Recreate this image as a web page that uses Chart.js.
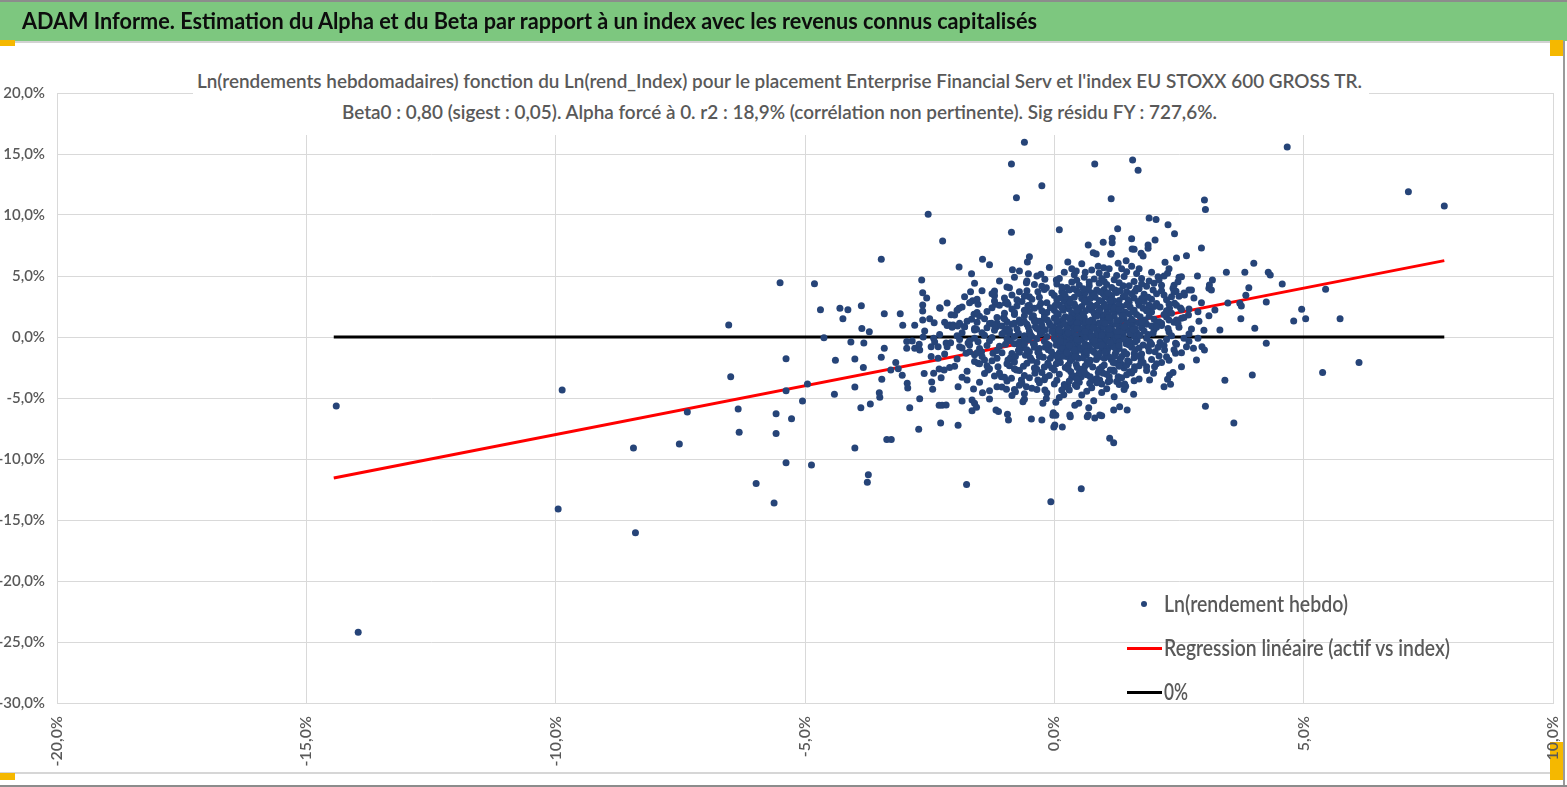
<!DOCTYPE html>
<html><head><meta charset="utf-8">
<script src="https://cdn.jsdelivr.net/npm/chart.js@4.4.0/dist/chart.umd.min.js"></script>
<style>
html,body{margin:0;padding:0;background:#fff;}
#wrap{position:relative;width:1567px;height:787px;overflow:hidden;background:#fff;font-family:Lato,"Open Sans",sans-serif;}
canvas{position:absolute;left:0;top:0;}
.txt{position:absolute;white-space:nowrap;transform-origin:0 50%;line-height:1;}
#header{position:absolute;left:0;top:0;width:1567px;height:41px;background:#7DC77F;border-top:2px solid #8C8C8C;box-sizing:border-box;}
#hline{position:absolute;left:0;top:41px;width:1563px;height:2px;background:#D2D2D2;}
#rline{position:absolute;left:1563px;top:41px;width:2px;height:746px;background:#9A9A9A;}
#bline1{position:absolute;left:0;top:772px;width:1563px;height:2px;background:#D6D6D6;}
#bline2{position:absolute;left:0;top:785px;width:1567px;height:2px;background:#8C8C8C;}
.handle{position:absolute;background:#F5B800;}
#titlebox{position:absolute;left:193px;top:62px;width:1176px;height:73px;background:#fff;}
.leg{position:absolute;}
</style>
</head><body>
<div id="wrap">
  <div id="header"></div>
  <div id="hline"></div><div id="rline"></div><div id="bline1"></div><div id="bline2"></div>
  <div class="handle" style="left:0;top:40px;width:15px;height:6px"></div>
  <div class="handle" style="left:1550px;top:40px;width:13px;height:16px"></div>
  <div class="handle" style="left:0;top:773px;width:15px;height:7px"></div>
  <div class="handle" style="left:1550px;top:742px;width:13px;height:38px"></div>
  <canvas id="c" width="1567" height="787"></canvas>
  <div id="titlebox"></div>
  <div id="overlay"></div>
</div>
<script>
// ---- Texts ----
const HEADER_TEXT = "ADAM Informe. Estimation du Alpha et du Beta par rapport à un index avec les revenus connus capitalisés";
const TITLE_LINE_1 = "Ln(rendements hebdomadaires) fonction du Ln(rend_Index) pour le placement Enterprise Financial Serv et l'index EU STOXX 600 GROSS TR.";
const TITLE_LINE_2 = "Beta0 : 0,80 (sigest : 0,05). Alpha forcé à 0. r2 : 18,9% (corrélation non pertinente). Sig résidu FY : 727,6%.";
const SERIES_NAMES = ["Ln(rendement hebdo)", "Regression linéaire (actif vs index)", "0%"];

// ---- Axis ticks (percent) ----
const X_TICKS = [-20, -15, -10, -5, 0, 5, 10];
const Y_TICKS = [-30, -25, -20, -15, -10, -5, 0, 5, 10, 15, 20];

// ---- Weekly log returns [index %, asset %] ----
const tailPoints = [
[-14.4,-5.66],[-13.96,-24.2],[-9.95,-14.1],[-9.87,-4.34],[-8.44,-9.1],[-8.4,-16.05],[-7.52,-8.77],[-7.36,-6.15],
[-6.53,0.98],[-6.49,-3.25],[-6.34,-5.9],[-6.32,-7.8],[-5.98,-12.0],[-5.62,-13.6],[-5.58,-6.3],[-5.58,-7.9],
[-5.5,4.45],[-5.38,-1.78],[-5.38,-4.4],[-5.38,-10.3],[-5.27,-6.7],[-5.05,-5.25],[-4.95,-3.85],[-4.87,-10.5],
[-4.81,4.37],[-4.69,2.24],[-4.62,-0.06]
];
const leftPoints = [
[-4.41,-4.7],[-4.39,-1.9],[-4.3,2.35],[-4.24,1.5],[-4.14,2.24],[-4.08,-0.4],[-4.0,-1.8],[-4.0,-4.1],[-4.0,-9.1],
[-3.88,-5.8],[-3.87,2.57],[-3.86,0.7],[-3.83,-2.5],[-3.82,-0.5],[-3.75,-11.9],[-3.73,-11.3],[-3.71,0.43],
[-3.69,-5.5],[-3.51,-4.57],[-3.5,-4.94],[-3.47,6.37],[-3.47,-1.66],[-3.46,-3.47],[-3.41,-0.93],[-3.41,1.91],
[-3.36,-8.4],[-3.28,-2.7],[-3.27,-8.4],[-3.18,-2.1],[-3.13,-2.6],[-3.09,1.91],[-3.05,-3.14],[-3.04,0.96],
[-2.96,-0.36],[-2.96,-0.93],[-2.95,-3.8],[-2.94,-4.18],[-2.9,-5.8],[-2.85,-0.33],[-2.8,0.96],[-2.8,-0.93],
[-2.72,-7.57],[-2.71,-0.6],[-2.7,-1.07],[-2.7,-5.06],[-2.66,4.67],[-2.64,3.63],[-2.64,2.62],[-2.64,2.13],
[-2.64,1.39],[-2.63,0.0],[-2.61,-3.0],[-2.56,3.2],[-2.53,10.06],[-2.47,-0.8],[-2.47,-1.6],[-2.46,-3.69],
[-2.44,-4.29],[-2.42,-0.1],[-2.42,-2.98],[-2.41,1.17],[-2.33,-0.8],[-2.33,-1.75],[-2.31,-2.62],[-2.31,-5.6],
[-2.29,2.35],[-2.28,-7.05],[-2.27,-3.34],[-2.25,-5.6],[-2.24,7.87],[-2.21,-2.7],[-2.17,-0.5],[-2.17,-5.57],
[-2.15,2.79],[-2.1,-2.5],[-2.1,0.98],[-2.08,-0.47],[-2.07,1.83],[-2.03,0.98]
];
const midPoints = [
[-1.93,-7.24],[-1.93,-4.07],[-1.94,0.9],[-1.91,5.74],[-1.91,2.35],[-1.9,-0.8],[-1.9,1.12],[-1.85,-5.25],
[-1.8,0.84],[-1.77,-1.34],[-1.76,-12.1],[-1.75,-3.52],[-1.73,-0.5],[-1.68,3.71],[-1.66,5.19],[-1.66,1.45],
[-1.65,-5.16],[-1.65,-6.04],[-1.64,2.98],[-1.62,-4.26],[-1.61,1.86],[-1.6,0.57],[-1.6,-5.43],[-1.56,-5.76],
[-1.56,0.63],[-1.53,2.68],[-1.53,-0.38],[-1.53,-2.16],[-1.46,-1.2],[-1.44,6.37],[-1.44,-4.57],[-1.4,1.5],
[-1.4,-1.89],[-1.33,-2.7],[-1.3,5.93],[-1.3,-5.08],[-1.26,1.12],[-1.23,-1.34],[-1.2,3.77],[-1.2,3.39],
[-1.21,3.58],[-1.18,2.68],[-1.17,-5.98],[-1.16,0.84],[-1.12,-6.1],[-1.15,-4.07],[-1.13,-2.43],[-1.06,-3.25],
[-1.02,1.58],[-0.98,2.79],[-0.96,-4.29],[-0.94,-6.34],[-0.93,2.68],[-0.93,-1.89],[-0.92,-6.8],[-0.9,4.04],
[-0.86,14.18],[-0.86,8.58],[-0.86,-3.39],[-0.84,5.52],[-0.8,1.12],[-0.78,-4.48],[-0.76,11.42],[-0.76,-2.7],
[-0.7,5.41],[-0.66,-3.52],[-0.63,-5.3],[-0.6,-5.1],[-0.6,15.96],[-0.56,-4.07],[-0.56,4.45],[-0.54,6.15],
[-0.53,2.57],[-0.5,6.58],[-0.5,3.3],[-0.52,5.19],[-0.46,-6.72],[-0.39,1.39],[-0.39,-2.98],[-0.33,3.71],
[-0.33,-3.52],[-0.27,5.14],[-0.27,2.76],[-0.26,1.25],[-0.25,12.4],[-0.25,-6.8],[-0.23,-5.43],[-0.19,-4.34],
[-0.19,4.73],[-0.16,4.04],[-0.16,-5.05],[-0.13,-2.16],[-0.07,-13.5],[-0.03,-6.42],[-0.01,-7.38],[-0.02,-6.2]
];
const rightPoints = [
[0.01,-7.21],[0.03,-6.42],[0.03,-5.35],[0.04,4.67],[0.1,8.8],[0.16,-7.38],[0.19,-4.73],[0.27,6.15],[0.27,-4.0],
[0.31,-6.39],[0.32,-6.53],[0.41,-5.6],[0.42,-3.93],[0.44,5.41],[0.49,-5.43],[0.54,-3.25],[0.54,-12.43],
[0.66,-6.53],[0.68,7.54],[0.68,-6.39],[0.69,-5.8],[0.71,-3.8],[0.78,6.91],[0.79,-5.22],[0.81,14.18],
[0.81,-6.64],[0.84,6.8],[0.84,-3.52],[0.91,-3.52],[0.91,-6.39],[0.95,-6.45],[0.98,-2.98],[0.98,7.76],
[0.99,5.68],[1.08,-3.66],[1.11,-8.3],[1.11,-3.58],[1.13,6.78],[1.14,11.34],[1.14,6.85],[1.16,8.09],
[1.16,7.73],[1.18,-2.7],[1.19,-5.98],[1.19,-8.66],[1.27,8.88],[1.28,6.04],[1.28,-3.25],[1.31,-3.39],
[1.31,-5.71],[1.34,-2.21],[1.41,-3.85],[1.43,-4.04],[1.44,6.25],[1.46,-5.98],[1.51,-2.84],[1.55,8.06],
[1.56,7.21],[1.57,14.5],[1.6,7.19],[1.59,-4.7],[1.6,-3.58],[1.61,-2.43],[1.68,13.66],[1.74,6.86],
[1.74,-2.02],[1.78,6.64],[1.85,-2.43],[1.88,7.27],[1.88,7.54],[1.9,9.75],[1.91,-3.52],[1.99,-2.98],
[2.01,-2.43],[2.02,7.95],[2.04,9.64],[2.08,4.94],[2.15,-2.1],[2.15,1.12],[2.2,-4.07],[2.21,-1.07],
[2.22,6.12],[2.25,-1.61],[2.25,1.64],[2.27,-3.47],[2.27,5.22],[2.28,9.2],[2.31,-3.11],[2.31,2.35],
[2.33,-3.88],[2.38,-2.92],[2.38,3.99],[2.41,8.47],[2.41,2.76],[2.43,-0.52],[2.43,-1.34],[2.44,3.74],
[2.45,6.48],[2.45,1.39],[2.48,4.53],[2.53,2.38],[2.55,4.94],[2.55,-2.43],[2.55,1.53],[2.61,3.44],
[2.65,6.66],[2.65,-0.8],[2.69,1.8],[2.75,3.85],[2.79,-0.93],[2.85,-1.89],[2.87,5.0],[2.88,2.07],
[2.88,-0.1],[2.95,7.3],[2.96,-0.8],[3.01,11.23],[3.01,-1.07],[3.03,10.46],[3.03,-5.68],[3.1,3.99],
[3.11,4.26],[3.15,3.85],[3.17,4.67],[3.22,2.21],[3.32,0.57],[3.42,-3.55],[3.45,5.3],[3.48,2.79],
[3.6,-7.05],[3.72,2.76],[3.74,1.5],[3.75,2.54],[3.82,5.3],[3.84,3.42],[3.9,4.04],[3.97,-3.11],
[4.0,6.04],[4.02,0.71],[4.25,-0.52],[4.25,2.87],[4.29,5.3],[4.33,5.08],[4.57,4.34],[4.67,15.57],
[4.8,1.31],[4.96,2.27],[5.04,1.5],[5.38,-2.92],[5.44,3.91],[5.73,1.5],[6.11,-2.08],[7.1,11.9],[7.82,10.74]
];
const corePoints = [
[-1.1,4.6],[-0.8,4.9],[-0.4,4.3],[0.1,4.8],[0.35,4.5],[0.6,4.9],[0.9,4.4],[1.2,4.7],[1.5,4.2],[1.75,4.8],
[2.0,4.4],[0.2,5.3],[0.75,5.5],[1.05,5.1],[1.35,5.6],[-0.1,5.7],[0.55,6.0],[1.65,5.2],[2.2,5.0],[-1.6,4.4],
[-1.8,3.3],[-1.45,3.8],[-1.0,3.2],[-0.7,3.7],[-0.45,3.1],[-0.2,3.9],[0.0,3.4],[0.15,3.7],[0.3,3.1],[0.45,3.8],
[0.6,3.3],[0.75,3.6],[0.9,3.0],[1.0,3.9],[1.15,3.4],[1.3,3.0],[1.45,3.7],[1.6,3.2],[1.8,3.5],[1.95,3.1],
[2.15,3.8],[2.35,3.3],[2.6,3.6],[0.05,3.05],[0.5,3.55],[0.85,3.85],[1.25,3.65],[-0.6,3.35],[-1.25,3.55],[2.8,3.2],
[-2.3,2.4],[-1.95,2.2],[-1.7,2.8],[-1.35,2.1],[-1.1,2.6],[-0.85,2.3],[-0.65,2.9],[-0.5,2.1],[-0.3,2.5],[-0.15,2.8],
[0.0,2.2],[0.1,2.6],[0.2,2.9],[0.3,2.3],[0.4,2.7],[0.5,2.05],[0.55,2.5],[0.65,2.85],[0.75,2.2],[0.85,2.6],
[0.95,2.95],[1.05,2.3],[1.15,2.7],[1.25,2.1],[1.35,2.5],[1.5,2.85],[1.6,2.2],[1.7,2.6],[1.9,2.3],[2.05,2.75],
[2.25,2.15],[2.45,2.6],[2.7,2.3],[2.95,2.8],[-0.95,2.85],[0.25,2.45],[0.7,2.4],[1.1,2.45],[-0.4,2.35],[1.8,2.9],
[-2.5,1.5],[-2.2,1.2],[-2.0,1.8],[-1.75,1.3],[-1.5,1.7],[-1.3,1.1],[-1.15,1.6],[-0.95,1.25],[-0.8,1.85],[-0.7,1.4],
[-0.55,1.05],[-0.45,1.6],[-0.3,1.3],[-0.2,1.9],[-0.1,1.15],[0.0,1.55],[0.08,1.85],[0.15,1.25],[0.22,1.65],[0.3,1.05],
[0.38,1.45],[0.45,1.9],[0.52,1.2],[0.6,1.6],[0.68,1.0],[0.75,1.4],[0.82,1.8],[0.9,1.15],[0.98,1.55],[1.05,1.95],
[1.12,1.3],[1.2,1.7],[1.3,1.1],[1.4,1.5],[1.5,1.9],[1.6,1.25],[1.72,1.65],[1.85,1.05],[2.0,1.45],[2.2,1.85],
[2.4,1.2],[2.6,1.6],[2.9,1.3],[3.1,1.75],[-0.6,1.75],[0.35,1.75],[0.95,1.85],[1.35,1.85],[-1.0,1.5],[0.5,1.35],
[-2.6,0.5],[-2.3,0.2],[-2.05,0.8],[-1.85,0.35],[-1.6,0.7],[-1.4,0.15],[-1.2,0.55],[-1.05,0.9],[-0.9,0.3],[-0.75,0.65],
[-0.6,0.1],[-0.5,0.45],[-0.38,0.85],[-0.28,0.25],[-0.18,0.6],[-0.08,0.95],[0.0,0.3],[0.07,0.7],[0.14,0.05],[0.2,0.45],
[0.27,0.85],[0.33,0.2],[0.4,0.6],[0.47,0.95],[0.53,0.35],[0.6,0.75],[0.66,0.1],[0.72,0.5],[0.8,0.9],[0.86,0.25],
[0.93,0.65],[1.0,0.05],[1.07,0.45],[1.14,0.85],[1.22,0.3],[1.3,0.7],[1.38,0.15],[1.46,0.55],[1.55,0.95],[1.65,0.35],
[1.75,0.75],[1.88,0.2],[2.0,0.6],[2.15,0.95],[2.3,0.4],[2.5,0.8],[2.7,0.25],[3.0,0.55],[-0.45,0.05],[0.25,0.98],
[0.9,0.45],[1.6,0.1],[-1.0,0.4],
[-2.4,-0.4],[-2.15,-0.8],[-1.9,-0.2],[-1.7,-0.65],[-1.5,-0.95],[-1.3,-0.3],[-1.1,-0.75],[-0.95,-0.15],[-0.8,-0.55],[-0.65,-0.9],
[-0.52,-0.25],[-0.4,-0.6],[-0.3,-0.95],[-0.2,-0.35],[-0.1,-0.7],[0.0,-0.1],[0.06,-0.5],[0.12,-0.85],[0.2,-0.25],[0.27,-0.65],
[0.34,-0.05],[0.41,-0.45],[0.48,-0.8],[0.55,-0.2],[0.62,-0.6],[0.7,-0.95],[0.77,-0.35],[0.85,-0.75],[0.92,-0.1],[1.0,-0.5],
[1.08,-0.9],[1.16,-0.3],[1.25,-0.7],[1.34,-0.15],[1.44,-0.55],[1.55,-0.85],[1.66,-0.25],[1.78,-0.65],[1.92,-0.4],[2.08,-0.85],
[2.25,-0.2],[2.45,-0.6],[2.7,-0.35],[-0.7,-0.4],[0.38,-0.98],[1.2,-0.1],[-1.6,-0.1],[0.8,-0.55],
[-2.2,-1.4],[-1.95,-1.8],[-1.7,-1.2],[-1.45,-1.6],[-1.25,-1.95],[-1.05,-1.3],[-0.88,-1.7],[-0.72,-1.1],[-0.58,-1.5],[-0.45,-1.9],
[-0.33,-1.25],[-0.22,-1.65],[-0.12,-1.05],[-0.02,-1.45],[0.08,-1.85],[0.16,-1.2],[0.24,-1.6],[0.32,-1.95],[0.4,-1.35],[0.48,-1.75],
[0.56,-1.1],[0.64,-1.5],[0.72,-1.9],[0.8,-1.25],[0.88,-1.65],[0.96,-1.05],[1.05,-1.45],[1.14,-1.85],[1.24,-1.2],[1.35,-1.6],
[1.47,-1.95],[1.6,-1.35],[1.74,-1.75],[1.9,-1.15],[2.1,-1.55],[2.3,-1.9],[2.55,-1.3],[-1.6,-1.45],[0.3,-1.5],[0.6,-1.3],
[1.0,-1.75],[-0.5,-1.2],
[-2.0,-2.4],[-1.75,-2.8],[-1.5,-2.2],[-1.3,-2.6],[-1.1,-2.95],[-0.9,-2.35],[-0.7,-2.75],[-0.55,-2.15],[-0.4,-2.55],[-0.25,-2.9],
[-0.12,-2.3],[0.0,-2.7],[0.12,-2.1],[0.22,-2.5],[0.33,-2.85],[0.44,-2.25],[0.55,-2.65],[0.66,-2.05],[0.77,-2.45],[0.88,-2.9],
[1.0,-2.3],[1.12,-2.7],[1.25,-2.15],[1.4,-2.55],[1.55,-2.95],[1.7,-2.35],[1.85,-2.75],[2.05,-2.2],[-0.8,-2.05],[0.5,-2.95],[1.3,-2.4],
[-1.85,-3.3],[-1.5,-3.7],[-1.2,-3.2],[-0.95,-3.6],[-0.7,-3.95],[-0.5,-3.35],[-0.3,-3.75],[-0.1,-3.15],[0.05,-3.55],[0.2,-3.9],
[0.35,-3.3],[0.5,-3.7],[0.65,-3.1],[0.8,-3.5],[0.95,-3.85],[1.1,-3.25],[1.25,-3.65],[1.45,-3.1],[1.7,-3.45],[-0.2,-3.5],[0.4,-3.2],
[-1.3,-4.4],[-0.85,-4.8],[-0.45,-4.2],[-0.15,-4.6],[0.1,-4.95],[0.3,-4.35],[0.55,-4.75],[0.75,-4.15],[0.95,-4.55],[1.2,-4.9],
[1.4,-4.3],[-0.6,-4.65],[0.2,-4.1]
];
const denseCorePoints = [
[-0.95,4.1],[-0.55,4.6],[-0.25,4.15],[0.05,4.35],[0.25,4.05],[0.45,4.65],[0.7,4.2],[0.8,4.75],[1.05,4.3],[1.3,4.45],
[1.4,4.95],[1.6,4.55],[1.85,4.15],[2.1,4.7],[2.4,4.25],[0.4,5.1],[0.9,5.25],[1.55,5.8],[-0.35,5.0],[2.5,4.9],
[-1.55,3.1],[-1.2,2.95],[-0.85,3.45],[-0.55,3.8],[-0.3,3.25],[-0.05,3.6],[0.22,3.35],[0.38,3.95],[0.55,3.15],[0.68,3.9],
[0.82,3.25],[0.98,3.55],[1.1,3.15],[1.22,3.85],[1.38,3.3],[1.55,3.55],[1.7,3.95],[1.88,3.25],[2.05,3.55],[2.25,3.05],
[2.5,3.35],[2.7,3.85],[-0.75,3.05],[0.12,3.2],[0.62,3.65],[1.02,3.3],[1.48,3.05],
[-1.85,2.45],[-1.55,2.0],[-1.25,2.4],[-1.0,1.95],[-0.75,2.55],[-0.6,2.2],[-0.42,1.75],[-0.25,2.15],[-0.08,2.4],[0.05,1.95],
[0.18,2.2],[0.28,2.65],[0.35,1.95],[0.48,2.35],[0.58,1.75],[0.63,2.15],[0.72,2.65],[0.8,1.95],[0.92,2.35],[1.0,2.7],
[1.08,1.85],[1.18,2.15],[1.28,2.6],[1.42,2.05],[1.52,2.45],[1.65,1.85],[1.78,2.35],[1.95,2.05],[2.12,2.45],[2.35,1.95],
[2.55,2.25],[-0.15,2.0],[0.42,2.5],[0.88,2.05],[1.2,2.35],[1.9,2.6],
[-2.15,0.95],[-1.8,0.85],[-1.55,1.2],[-1.35,0.75],[-1.15,1.15],[-0.95,0.7],[-0.85,1.05],[-0.68,1.15],[-0.52,0.8],[-0.4,1.3],
[-0.25,0.95],[-0.14,1.4],[-0.03,0.85],[0.05,1.2],[0.12,0.95],[0.18,1.45],[0.26,0.7],[0.34,1.25],[0.42,0.9],[0.5,1.5],
[0.56,0.65],[0.63,1.2],[0.7,0.8],[0.78,1.25],[0.85,0.55],[0.92,1.05],[1.0,0.8],[1.06,1.35],[1.15,0.6],[1.24,1.05],
[1.33,1.4],[1.42,0.85],[1.52,1.25],[1.62,0.7],[1.7,1.15],[1.82,1.4],[1.95,0.9],[2.1,1.25],[2.28,0.7],[2.48,1.1],
[2.75,0.65],[-0.3,0.55],[0.4,0.75],[0.98,1.2],[1.45,1.1],
[-1.95,0.1],[-1.7,-0.3],[-1.45,0.35],[-1.25,-0.05],[-1.05,0.25],[-0.88,-0.3],[-0.72,0.3],[-0.6,-0.2],[-0.48,0.2],[-0.35,-0.15],
[-0.25,0.4],[-0.15,0.05],[-0.05,0.45],[0.03,-0.25],[0.1,0.3],[0.17,-0.1],[0.24,0.15],[0.3,-0.35],[0.37,0.4],[0.44,0.1],
[0.5,-0.3],[0.58,0.25],[0.64,-0.05],[0.7,0.35],[0.76,-0.2],[0.83,0.15],[0.9,-0.4],[0.96,0.3],[1.04,-0.15],[1.11,0.2],
[1.19,-0.35],[1.27,0.1],[1.35,0.45],[1.42,-0.2],[1.52,0.25],[1.62,-0.4],[1.72,0.15],[1.85,-0.1],[1.98,0.3],[2.12,-0.45],
[2.35,0.1],[2.6,-0.1],[-0.8,0.05],[0.2,-0.45],[0.75,0.05],[1.3,-0.4],
[-1.85,-0.9],[-1.55,-1.3],[-1.35,-0.7],[-1.15,-1.1],[-0.98,-0.6],[-0.85,-1.35],[-0.7,-0.75],[-0.55,-1.05],[-0.42,-0.55],[-0.3,-1.4],
[-0.18,-0.85],[-0.06,-1.2],[0.04,-0.65],[0.1,-1.3],[0.18,-0.95],[0.26,-1.15],[0.34,-0.6],[0.44,-1.25],[0.52,-0.9],[0.6,-1.45],
[0.68,-0.7],[0.75,-1.1],[0.83,-0.55],[0.9,-1.35],[0.98,-0.8],[1.06,-1.2],[1.14,-0.6],[1.22,-1.4],[1.3,-0.95],[1.4,-1.2],
[1.5,-0.65],[1.62,-1.05],[1.75,-1.4],[1.88,-0.8],[2.02,-1.2],[2.2,-0.7],[2.4,-1.05],[-0.6,-0.6],[0.4,-1.05],[1.2,-0.85],
[-1.6,-2.0],[-1.35,-2.35],[-1.15,-1.75],[-0.95,-2.2],[-0.78,-1.6],[-0.62,-2.4],[-0.48,-1.7],[-0.35,-2.1],[-0.2,-2.45],[-0.08,-1.75],
[0.04,-2.2],[0.15,-1.6],[0.28,-2.3],[0.36,-1.8],[0.46,-2.5],[0.58,-1.7],[0.7,-2.2],[0.84,-1.85],[0.95,-2.45],[1.08,-1.6],
[1.18,-2.1],[1.32,-1.8],[1.45,-2.3],[1.6,-1.7],[1.78,-2.1],[1.95,-1.85],[-0.3,-1.6],[0.62,-2.35],[1.5,-2.05],
[-1.4,-3.0],[-1.0,-3.3],[-0.8,-2.6],[-0.6,-3.15],[-0.35,-2.65],[-0.18,-3.3],[0.1,-3.05],[0.28,-2.65],[0.45,-3.45],[0.6,-2.8],
[0.72,-3.25],[0.9,-2.65],[1.05,-3.05],[1.2,-2.8],[1.35,-3.35],[1.6,-2.7],[-0.05,-2.55],[0.85,-3.4],
[-1.05,-4.1],[-0.65,-3.8],[-0.35,-4.3],[0.0,-3.85],[0.15,-4.35],[0.45,-4.05],[0.65,-4.45],[0.85,-3.75],[1.05,-4.25],[1.3,-3.9],
[-0.8,-4.3],[0.3,-3.6]
];
const upperCorePoints = [
[0.35,5.6],[0.62,5.3],[0.88,5.8],[1.1,5.6],[1.25,5.05],[1.45,5.35],[1.7,5.6],[1.95,5.3],[2.3,5.6],[0.5,4.25],
[0.95,4.8],[1.15,4.05],[1.38,4.2],[1.65,4.0],[1.9,4.6],[2.15,4.25],[0.15,4.1],[0.7,4.5],[1.0,4.55],[1.75,4.35],
[0.2,3.55],[0.4,3.25],[0.58,3.95],[0.72,3.15],[0.92,3.7],[1.08,3.6],[1.32,3.8],[1.42,3.4],[1.62,3.75],[1.75,3.15],
[1.98,3.85],[2.2,3.45],[0.3,3.85],[0.8,3.45],[1.18,3.0],[2.4,3.7],
[0.02,2.6],[0.15,2.4],[0.32,2.85],[0.45,2.2],[0.6,2.95],[0.78,2.5],[0.9,2.15],[1.02,2.55],[1.12,2.95],[1.3,2.25],
[1.45,2.65],[1.58,2.05],[1.68,2.9],[1.85,2.15],[2.0,2.5],[2.3,2.7],
[0.05,1.4],[0.2,1.05],[0.3,1.55],[0.46,1.15],[0.58,1.9],[0.7,1.3],[0.85,1.7],[1.02,1.1],[1.1,1.6],[1.25,1.35],
[1.38,1.75],[1.55,1.45],[1.75,1.25],[1.9,1.7],[2.05,1.1],[2.3,1.4],
[0.1,0.55],[0.28,0.35],[0.45,0.7],[0.62,0.45],[0.78,0.75],[0.95,0.15],[1.1,0.65],[1.26,0.45],[1.4,0.85],[1.58,0.6],
[1.8,0.5],[2.05,0.8],
[0.12,-0.35],[0.3,-0.7],[0.46,-0.2],[0.6,-0.8],[0.8,-0.3],[0.95,-0.65],[1.12,-0.45],[1.3,-0.7],[1.5,-0.3],[1.7,-0.9],
[1.95,-0.6],
[0.05,-1.55],[0.25,-1.3],[0.42,-1.6],[0.65,-1.2],[0.85,-1.45],[1.02,-1.25],[1.2,-1.6],[1.45,-1.4],[1.68,-1.55],
[-0.5,2.6],[-0.8,2.0],[-0.2,1.6],[-0.6,1.25],[-0.35,0.7],[-0.9,0.55],[-1.2,0.95],[-0.15,-0.55],[-0.7,-1.25],[-0.4,-0.85]
];

// ---- Lines ----
const regressionX = [-14.45, 7.82];
const regressionY = [-11.56, 6.26];
const zeroX = [-14.45, 7.82];
const zeroY = [0, 0];

// ---- Build chart ----
const scatterData = [].concat(tailPoints, leftPoints, midPoints, rightPoints, corePoints, denseCorePoints, upperCorePoints)
  .map(p => ({x: p[0], y: p[1]}));
const pct = v => Number(v).toFixed(1).replace('.', ',') + '%';
const FONT = 'Lato, "Open Sans", sans-serif';
const GREY = '#595959';
const DOT = '#264478';

new Chart(document.getElementById('c'), {
  type: 'scatter',
  data: {
    datasets: [
      {label: SERIES_NAMES[0], data: scatterData, backgroundColor: DOT, borderWidth: 0, pointRadius: 3.5, order: 0},
      {label: SERIES_NAMES[1], type: 'line', data: regressionX.map((x, i) => ({x, y: regressionY[i]})),
        borderColor: '#FF0000', borderWidth: 3, pointRadius: 0, showLine: true, fill: false, order: 1},
      {label: SERIES_NAMES[2], type: 'line', data: zeroX.map((x, i) => ({x, y: zeroY[i]})),
        borderColor: '#000000', borderWidth: 3, pointRadius: 0, showLine: true, fill: false, order: 2}
    ]
  },
  options: {
    responsive: false, animation: false, devicePixelRatio: 1,
    layout: {padding: {top: 93, right: 14, left: 0, bottom: 0}},
    plugins: {legend: {display: false}, tooltip: {enabled: false}, title: {display: false}},
    scales: {
      x: {
        type: 'linear', min: -20, max: 10,
        afterBuildTicks: s => { s.ticks = X_TICKS.map(v => ({value: v})); },
        afterFit: s => { s.height = 84; s.paddingLeft = 0; s.paddingRight = 0; },
        grid: {color: '#D9D9D9', lineWidth: 1, drawTicks: false},
        border: {color: '#D9D9D9'},
        ticks: {autoSkip: false, minRotation: 90, maxRotation: 90, padding: 13, color: GREY,
          font: {family: FONT, size: 16, weight: '600'}, callback: pct}
      },
      y: {
        type: 'linear', min: -30, max: 20,
        afterBuildTicks: s => { s.ticks = Y_TICKS.map(v => ({value: v})); },
        afterFit: s => { s.width = 57; s.paddingTop = 0; s.paddingBottom = 0; },
        grid: {color: '#D9D9D9', lineWidth: 1, drawTicks: false},
        border: {color: '#D9D9D9'},
        ticks: {padding: 12, color: GREY, font: {family: FONT, size: 15, weight: '600'}, callback: pct}
      }
    }
  }
});

// ---- Text overlays ----
const overlay = document.getElementById('overlay');
function addText(text, left, centerY, width, size, weight, color) {
  const el = document.createElement('div');
  el.className = 'txt';
  el.textContent = text;
  el.style.left = left + 'px';
  el.style.top = centerY + 'px';
  el.style.fontSize = size + 'px';
  el.style.fontWeight = weight;
  el.style.color = color;
  overlay.appendChild(el);
  const w = el.getBoundingClientRect().width;
  el.style.transform = 'translateY(-50%) scaleX(' + (width / w) + ')';
  return el;
}
addText(HEADER_TEXT, 22, 21, 1015, 22, 700, '#0D0D0D');
addText(TITLE_LINE_1, 197, 80, 1165, 19, 600, GREY);
addText(TITLE_LINE_2, 342, 111, 875, 19, 600, GREY);
addText(SERIES_NAMES[0], 1164, 604, 184, 22, 600, GREY);
addText(SERIES_NAMES[1], 1164, 648, 286, 22, 600, GREY);
addText(SERIES_NAMES[2], 1164, 692, 24, 22, 600, GREY);
function addBox(l, t, w, h, c, r) {
  const d = document.createElement('div');
  d.className = 'leg';
  Object.assign(d.style, {left: l + 'px', top: t + 'px', width: w + 'px', height: h + 'px', background: c, borderRadius: r || 0});
  overlay.appendChild(d);
}
addBox(1141, 601, 6, 6, DOT, '50%');
addBox(1127, 647, 35, 3, '#FF0000');
addBox(1127, 691, 35, 3, '#000000');
</script>
</body></html>
